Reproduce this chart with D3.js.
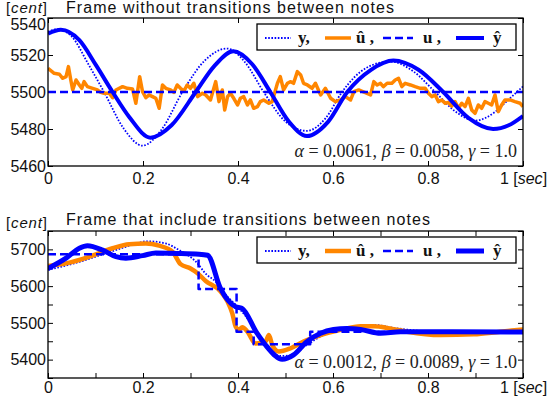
<!DOCTYPE html>
<html>
<head>
<meta charset="utf-8">
<script src="https://cdn.jsdelivr.net/npm/d3@7"></script>
<style>
  body { margin: 0; background: #fff; }
  svg { display: block; }
</style>
</head>
<body>
<svg id="chart" width="552" height="405"></svg>
<script>
// ---------- data (time in sec, pitch in cent) ----------
// top frame: without transitions
var topY = [[0, 5532.6], [0.02, 5534], [0.05, 5530], [0.085, 5515], [0.118, 5500], [0.16, 5480],
  [0.199, 5471], [0.24, 5480], [0.283, 5500], [0.33, 5517], [0.377, 5523.5], [0.415, 5516],
  [0.454, 5500], [0.5, 5484], [0.545, 5479], [0.585, 5486], [0.619, 5500], [0.67, 5513],
  [0.72, 5516.5], [0.77, 5511], [0.815, 5500], [0.86, 5489], [0.899, 5484.5], [0.94, 5489],
  [0.97, 5496], [1, 5503]];
var topYhat = [[0, 5531.5], [0.027, 5533.6], [0.066, 5528], [0.101, 5514.5], [0.136, 5500],
  [0.171, 5486.5], [0.216, 5475.3], [0.26, 5482], [0.311, 5500], [0.35, 5514], [0.39, 5522],
  [0.43, 5515], [0.468, 5500], [0.507, 5484], [0.545, 5476.2], [0.59, 5484], [0.63, 5500],
  [0.68, 5512], [0.727, 5517], [0.78, 5512], [0.832, 5500], [0.885, 5486], [0.937, 5480],
  [0.97, 5482], [1, 5487]];
var topU = [[0, 5500], [1, 5500]];
var topUhat = [[0, 5512.8], [0.013, 5510.1], [0.024, 5509.6], [0.031, 5507.4], [0.038, 5508.3],
  [0.043, 5513.7], [0.048, 5506.5], [0.052, 5501.1], [0.059, 5506.5], [0.066, 5503.8],
  [0.071, 5502], [0.076, 5505.6], [0.083, 5502.9], [0.094, 5502], [0.104, 5501.1],
  [0.111, 5499.8], [0.118, 5499.3], [0.129, 5499.3], [0.136, 5496.9], [0.143, 5501.1],
  [0.157, 5502.9], [0.167, 5502], [0.178, 5501.6], [0.185, 5493.9], [0.193, 5508.3],
  [0.199, 5500.2], [0.206, 5496.9], [0.213, 5498.4], [0.22, 5497.5], [0.227, 5496.6],
  [0.234, 5491.2], [0.241, 5503.8], [0.248, 5502], [0.258, 5501.1], [0.265, 5499.8],
  [0.272, 5503.8], [0.279, 5502], [0.286, 5500.5], [0.293, 5503.8], [0.3, 5502],
  [0.307, 5504.7], [0.315, 5497.5], [0.325, 5499.3], [0.332, 5498.4], [0.342, 5495.7],
  [0.353, 5505.6], [0.36, 5494.8], [0.367, 5501.1], [0.372, 5490.3], [0.378, 5497.5],
  [0.384, 5499.3], [0.391, 5496.6], [0.399, 5493], [0.405, 5496.6], [0.412, 5497.5],
  [0.42, 5493], [0.426, 5495.7], [0.433, 5491.2], [0.441, 5492.1], [0.447, 5494.8],
  [0.454, 5495.7], [0.465, 5493.9], [0.472, 5494.8], [0.483, 5504.7], [0.489, 5508.3],
  [0.496, 5501.1], [0.504, 5504.7], [0.511, 5505.6], [0.517, 5504.7], [0.525, 5511],
  [0.532, 5509.2], [0.538, 5504.7], [0.546, 5503.8], [0.556, 5502], [0.563, 5504.7],
  [0.574, 5498.4], [0.584, 5502], [0.595, 5496.6], [0.605, 5494.8], [0.616, 5495.7],
  [0.626, 5497.5], [0.637, 5495.7], [0.644, 5500.2], [0.654, 5501.1], [0.668, 5499.6],
  [0.679, 5498.4], [0.686, 5505.6], [0.693, 5503.8], [0.7, 5504.7], [0.706, 5502.9],
  [0.714, 5504.7], [0.724, 5504.7], [0.731, 5506.5], [0.738, 5507.4], [0.745, 5502.9],
  [0.752, 5504.7], [0.763, 5503.8], [0.773, 5502.9], [0.784, 5502], [0.794, 5502],
  [0.801, 5499.3], [0.808, 5497.5], [0.815, 5498.4], [0.822, 5494.8], [0.829, 5495.7],
  [0.836, 5493.9], [0.843, 5494.3], [0.85, 5492.4], [0.857, 5494.8], [0.864, 5491.2],
  [0.871, 5493.9], [0.878, 5492.1], [0.885, 5496.6], [0.892, 5490.3], [0.899, 5488.5],
  [0.906, 5493], [0.913, 5491.2], [0.92, 5494.8], [0.927, 5493.9], [0.934, 5493],
  [0.941, 5498.4], [0.948, 5489.4], [0.955, 5493], [0.962, 5495.7], [0.973, 5495.7],
  [0.983, 5494.8], [0.994, 5493.9], [1, 5492.1]];

// bottom frame: with transitions between notes
var botY = [[0, 5644], [0.066, 5666], [0.122, 5689], [0.164, 5707], [0.21, 5722], [0.248, 5716],
  [0.276, 5698], [0.311, 5667], [0.335, 5630], [0.349, 5617], [0.378, 5571], [0.399, 5544],
  [0.43, 5494], [0.454, 5444], [0.489, 5410], [0.51, 5411], [0.545, 5440], [0.58, 5467],
  [0.63, 5481], [0.686, 5494], [0.735, 5485], [0.8, 5477], [0.9, 5476], [1, 5476]];
var botYhat = [[0, 5648], [0.038, 5676], [0.066, 5703], [0.083, 5710], [0.115, 5698],
  [0.143, 5680], [0.164, 5676], [0.199, 5683], [0.227, 5690], [0.27, 5689], [0.318, 5687],
  [0.336, 5684], [0.363, 5594], [0.395, 5544], [0.408, 5540], [0.44, 5472], [0.461, 5435],
  [0.493, 5401], [0.517, 5413], [0.545, 5449], [0.574, 5472], [0.601, 5482], [0.63, 5485],
  [0.658, 5482], [0.7, 5472], [0.742, 5476], [0.85, 5476], [1, 5475]];
var botU = [[0, 5687], [0.317, 5687], [0.317, 5592], [0.397, 5592], [0.397, 5476],
  [0.433, 5476], [0.433, 5442], [0.552, 5442], [0.552, 5476], [1, 5476]];
var botUhat = [[0, 5655], [0.038, 5662], [0.087, 5680], [0.136, 5703], [0.171, 5714],
  [0.206, 5716], [0.234, 5710], [0.262, 5694], [0.279, 5660], [0.3, 5648], [0.314, 5636],
  [0.332, 5614], [0.363, 5586], [0.378, 5558], [0.388, 5526], [0.395, 5490], [0.402, 5481],
  [0.409, 5488], [0.42, 5476], [0.437, 5444], [0.458, 5449], [0.465, 5467], [0.472, 5440],
  [0.486, 5422], [0.511, 5431], [0.538, 5449], [0.574, 5467], [0.616, 5481], [0.658, 5491],
  [0.686, 5491], [0.72, 5485], [0.756, 5476], [0.826, 5467], [0.896, 5469], [0.952, 5476],
  [1, 5482]];

// ticks and texts
var xTicksTop = [0, 0.2, 0.4, 0.6, 0.8, 1];
var xTicksBot = [0, 0.1, 0.2, 0.3, 0.4, 0.5, 0.6, 0.7, 0.8, 0.9, 1];
var xLabels = [0, 0.2, 0.4, 0.6, 0.8];
var yTicksTop = [5460, 5480, 5500, 5520, 5540];
var yTicksBot = [5350, 5400, 5450, 5500, 5550, 5600, 5650, 5700, 5750];
var titles = ['Frame without transitions between notes', 'Frame that include transitions between notes'];
var params = [['0.0061', '0.0058', '1.0'], ['0.0012', '0.0089', '1.0']];

var SANS = '"Liberation Sans", Arial, sans-serif';
var SERIF = '"Liberation Serif", "Times New Roman", serif';
var BLUE = '#0000ff', ORANGE = '#ff8600';

var svg = d3.select('#chart');
svg.append('rect').attr('width', 552).attr('height', 405).attr('fill', '#fff');

var x = d3.scaleLinear().domain([0, 1]).range([48, 523]);

function fmtX(d) {
    if (d === 1) return '1';
    return xLabels.indexOf(d) >= 0 ? (d === 0 ? '0' : d3.format('.1f')(d)) : '';
}

function drawPanel(p) {
    var y = d3.scaleLinear().domain(p.yDomain).range([p.bottom, p.top]);
    var g = svg.append('g');
    var w = x.range()[1] - x.range()[0];

    g.append('clipPath').attr('id', 'clip' + p.id)
        .append('rect').attr('x', x(0)).attr('y', p.top).attr('width', w).attr('height', p.bottom - p.top);

    // axes with inward ticks on all four sides
    var xb = g.append('g').attr('transform', `translate(0,${p.bottom})`)
        .call(d3.axisBottom(x).tickValues(p.xTicks).tickSizeInner(-5).tickSizeOuter(0)
            .tickPadding(p.xPad).tickFormat(fmtX));
    g.append('g').attr('transform', `translate(0,${p.top})`)
        .call(d3.axisTop(x).tickValues(p.xTicks).tickSizeInner(-5).tickSizeOuter(0).tickFormat(''));
    var yl = g.append('g').attr('transform', `translate(${x(0)},0)`)
        .call(d3.axisLeft(y).tickValues(p.yTicks).tickSizeInner(-5).tickSizeOuter(0)
            .tickPadding(2).tickFormat(p.yFormat));
    g.append('g').attr('transform', `translate(${x(1)},0)`)
        .call(d3.axisRight(y).tickValues(p.yTicks).tickSizeInner(-5).tickSizeOuter(0).tickFormat(''));
    g.selectAll('.domain').remove();
    g.selectAll('.tick line').attr('stroke', '#000');
    g.selectAll('.tick text').attr('font-family', SANS).attr('font-size', 16).attr('fill', '#111');

    // the top label sits a little lower, below the unit text
    if (p.topLabelDy) {
        yl.selectAll('.tick text').filter(d => d === p.yDomain[1]).attr('dy', p.topLabelDy);
    }

    // "1 [sec]" label
    xb.selectAll('.tick text').filter(d => d === 1).text(null)
        .call(t => {
            t.append('tspan').text('1 [');
            t.append('tspan').attr('font-style', 'italic').text('sec');
            t.append('tspan').text(']');
        });

    // "[cent]" unit
    var unit = g.append('text').attr('x', 6).attr('y', p.unitY)
        .attr('font-family', SANS).attr('font-size', 15).attr('fill', '#111')
        .attr('textLength', 41).attr('lengthAdjust', 'spacing');
    unit.append('tspan').text('[');
    unit.append('tspan').attr('font-style', 'italic').text('cent');
    unit.append('tspan').text(']');

    // title
    g.append('text').attr('x', 66).attr('y', p.titleY)
        .attr('font-family', SANS).attr('font-size', 16).attr('fill', '#111')
        .attr('textLength', p.titleW).attr('lengthAdjust', 'spacing')
        .text(p.title);

    // series
    var smooth = d3.line().x(d => x(d[0])).y(d => y(d[1])).curve(d3.curveMonotoneX);
    var straight = d3.line().x(d => x(d[0])).y(d => y(d[1]));
    var plot = g.append('g').attr('clip-path', `url(#clip${p.id})`);
    p.series.forEach(function (s) {
        plot.append('path')
            .attr('d', (s.curve ? smooth : straight)(s.data))
            .attr('fill', 'none')
            .attr('stroke', s.color)
            .attr('stroke-width', s.width)
            .attr('stroke-dasharray', s.dash || null)
            .attr('stroke-linejoin', 'round');
    });

    // frame
    g.append('rect').attr('x', x(0)).attr('y', p.top).attr('width', w).attr('height', p.bottom - p.top)
        .attr('fill', 'none').attr('stroke', '#000').attr('stroke-width', 1.3);

    // legend
    var lg = g.append('g').attr('transform', `translate(257,${p.legendTop})`);
    lg.append('rect').attr('width', 259).attr('height', 26)
        .attr('fill', '#fff').attr('stroke', '#000').attr('stroke-width', 1.3);
    var items = [
        {x1: 8, x2: 34, tx: 41, label: 'y,', style: p.styles.y},
        {x1: 68, x2: 94, tx: 99, label: 'û ,', style: p.styles.uhat},
        {x1: 126, x2: 156, tx: 166, label: 'u ,', style: p.styles.u},
        {x1: 199, x2: 227, tx: 236, label: 'ŷ', style: p.styles.yhat}
    ];
    items.forEach(function (it) {
        lg.append('line').attr('x1', it.x1).attr('x2', it.x2).attr('y1', 14).attr('y2', 14)
            .attr('stroke', it.style.color).attr('stroke-width', it.style.width)
            .attr('stroke-dasharray', it.style.dash || null);
        lg.append('text').attr('x', it.tx).attr('y', 18.5)
            .attr('font-family', SERIF).attr('font-weight', 'bold').attr('font-size', 17)
            .attr('fill', '#111').text(it.label);
    });

    // parameter annotation
    var ann = g.append('text').attr('x', 517).attr('y', p.annY).attr('text-anchor', 'end')
        .attr('font-family', SERIF).attr('font-size', 18).attr('fill', '#222');
    var names = ['α', 'β', 'γ'];
    names.forEach(function (n, i) {
        ann.append('tspan').attr('font-style', 'italic').text(n);
        ann.append('tspan').text(' = ' + p.params[i] + (i < 2 ? ', ' : ''));
    });
}

var stylesTop = {
    y: {color: BLUE, width: 1.8, dash: '1.6,1.6'},
    uhat: {color: ORANGE, width: 3.5},
    u: {color: BLUE, width: 2.5, dash: '8,4'},
    yhat: {color: BLUE, width: 4}
};
var stylesBot = {
    y: {color: BLUE, width: 1.8, dash: '1.6,1.6'},
    uhat: {color: ORANGE, width: 4.5},
    u: {color: BLUE, width: 2.5, dash: '8,4'},
    yhat: {color: BLUE, width: 5}
};

drawPanel({
    id: 'top', top: 18, bottom: 166, yDomain: [5460, 5540],
    xTicks: xTicksTop, yTicks: yTicksTop, yFormat: d3.format('d'), xPad: 7, topLabelDy: '0.7em',
    unitY: 13, title: titles[0], titleY: 13, titleW: 328,
    legendTop: 24, annY: 157, params: params[0], styles: stylesTop,
    series: [
        Object.assign({data: topY, curve: true}, stylesTop.y),
        Object.assign({data: topUhat, curve: false}, stylesTop.uhat),
        Object.assign({data: topU, curve: false}, stylesTop.u),
        Object.assign({data: topYhat, curve: true}, stylesTop.yhat)
    ]
});

drawPanel({
    id: 'bot', top: 231, bottom: 378, yDomain: [5350, 5750],
    xTicks: xTicksBot, yTicks: yTicksBot, yFormat: d => d % 100 === 0 ? String(d) : '', xPad: 4,
    unitY: 228, title: titles[1], titleY: 225, titleW: 364,
    legendTop: 237, annY: 368, params: params[1], styles: stylesBot,
    series: [
        Object.assign({data: botY, curve: true}, stylesBot.y),
        Object.assign({data: botUhat, curve: true}, stylesBot.uhat),
        Object.assign({data: botU, curve: false}, stylesBot.u),
        Object.assign({data: botYhat, curve: true}, stylesBot.yhat)
    ]
});
</script>
</body>
</html>
